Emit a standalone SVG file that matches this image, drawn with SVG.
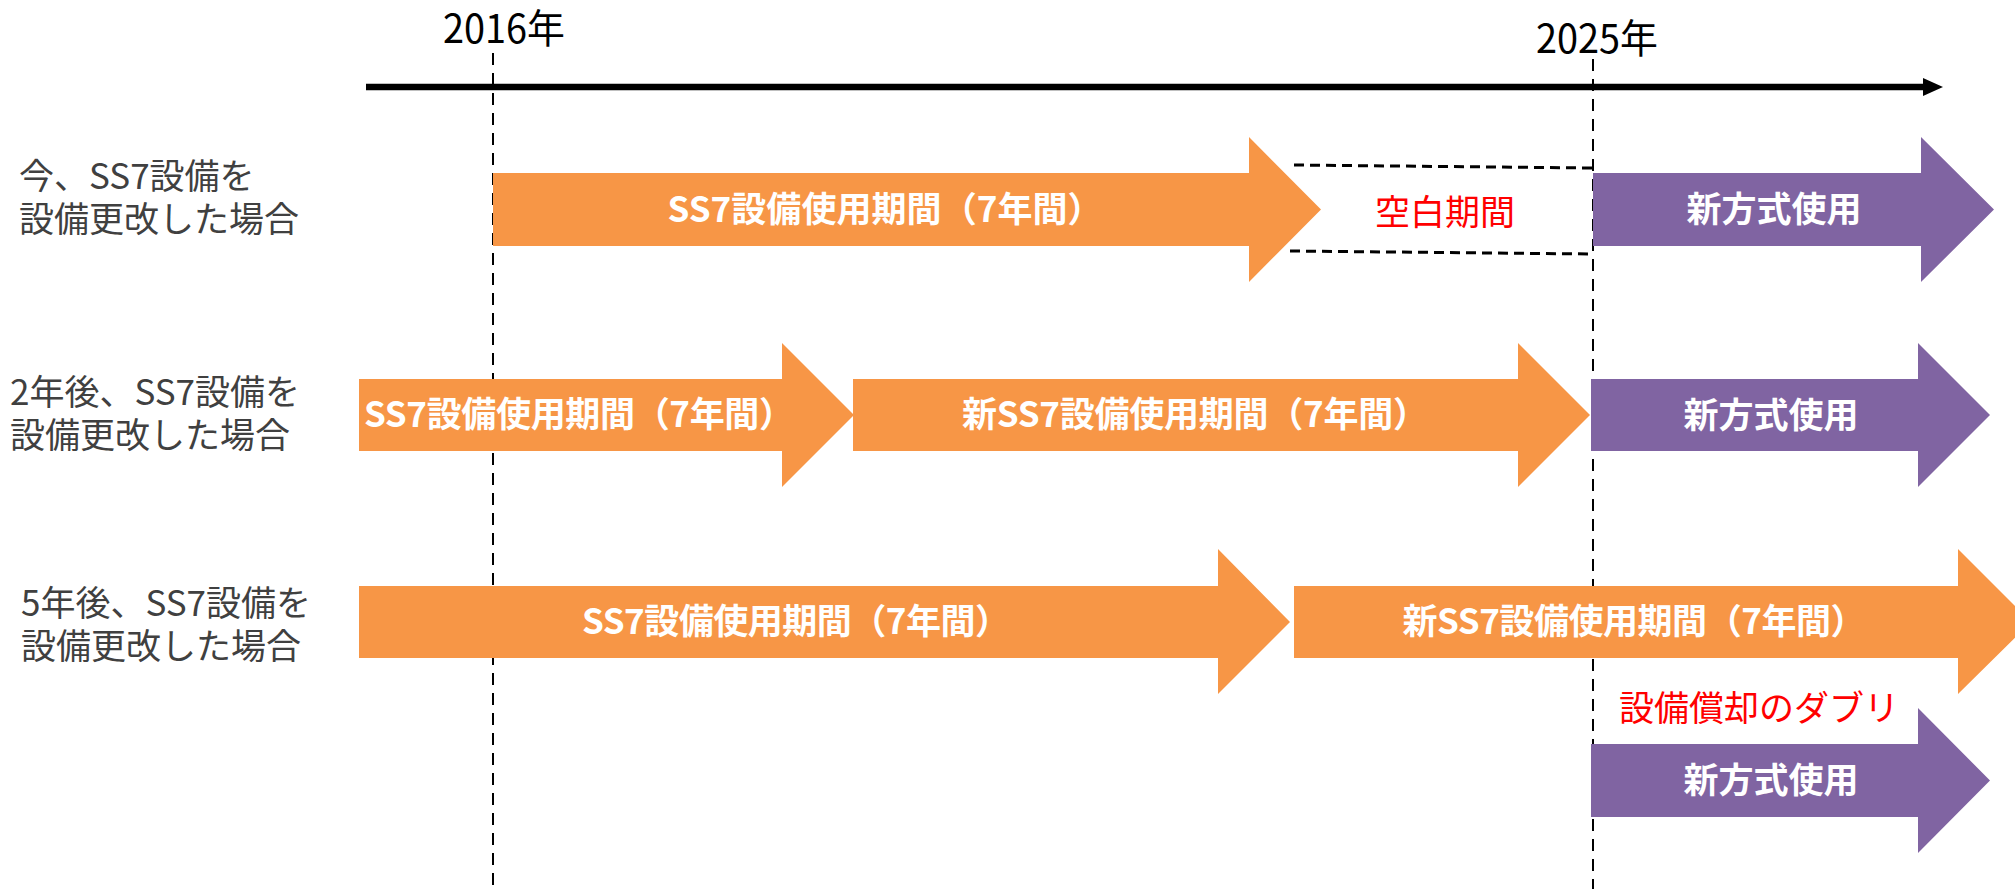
<svg xmlns="http://www.w3.org/2000/svg" width="2015" height="889" viewBox="0 0 2015 889">
<style>
.lbl{font-family:"Noto Sans CJK JP","Noto Sans",sans-serif;font-size:35px;fill:#404040}
.yr{font-family:"Noto Sans CJK JP","Noto Sans",sans-serif;font-size:40px;fill:#000;text-anchor:middle}
.bt{font-family:"Noto Sans CJK JP","Noto Sans",sans-serif;font-size:35px;font-weight:700;fill:#fff;text-anchor:middle}
.pt{font-family:"Noto Sans CJK JP","Noto Sans",sans-serif;font-size:35px;font-weight:700;fill:#fff;text-anchor:middle}
.rt{font-family:"Noto Sans CJK JP","Noto Sans",sans-serif;font-size:35px;fill:#FF0000;text-anchor:middle}
.org{fill:#F79646}
.pur{fill:#8064A2}
.vguide{stroke:#000;stroke-width:2;stroke-dasharray:12 8;fill:none}
.gap{stroke:#000;stroke-width:3;stroke-dasharray:10 6;fill:none}
</style>
<defs>
<marker id="ah" markerUnits="userSpaceOnUse" markerWidth="22" markerHeight="20" refX="2" refY="10" orient="auto">
<polygon points="0,1 20,10 0,19" fill="#000"/>
</marker>
</defs>
<g id="connectors">
<line class="vguide" x1="493" y1="53" x2="493" y2="889"/>
<line class="vguide" x1="1593" y1="59" x2="1593" y2="889"/>
<line x1="366" y1="87" x2="1925" y2="87" stroke="#000" stroke-width="6.5" marker-end="url(#ah)"/>
<line class="gap" x1="1294" y1="165" x2="1593" y2="168"/>
<line class="gap" x1="1290" y1="251" x2="1593" y2="254"/>
</g>
<g id="year2016"><text class="yr" x="504" y="43" textLength="122" lengthAdjust="spacingAndGlyphs">2016年</text></g>
<g id="year2025"><text class="yr" x="1597" y="53" textLength="122" lengthAdjust="spacingAndGlyphs">2025年</text></g>
<g id="label1"><text class="lbl" x="19" y="189">今、SS7設備を<tspan x="19" dy="43">設備更改した場合</tspan></text></g>
<g id="label2"><text class="lbl" x="10" y="405">2年後、SS7設備を<tspan x="10" dy="43">設備更改した場合</tspan></text></g>
<g id="label3"><text class="lbl" x="21" y="616">5年後、SS7設備を<tspan x="21" dy="43">設備更改した場合</tspan></text></g>
<g id="r1-ss7">
<polygon class="org" points="493,173 1249,173 1249,137 1321,209.5 1249,282 1249,246 493,246"/>
<text class="bt" x="885" y="222" textLength="435">SS7設備使用期間（7年間）</text>
</g>
<g id="r1-gap"><text class="rt" x="1445" y="225">空白期間</text></g>
<g id="r1-new">
<polygon class="pur" points="1593,173 1921,173 1921,137 1994,209.5 1921,282 1921,246 1593,246"/>
<text class="pt" x="1774" y="222">新方式使用</text>
</g>
<g id="r2-ss7">
<polygon class="org" points="359,379 782,379 782,343 854,415 782,487 782,451 359,451"/>
<text class="bt" x="579" y="427" textLength="430">SS7設備使用期間（7年間）</text>
</g>
<g id="r2-newss7">
<polygon class="org" points="853,379 1518,379 1518,343 1590,415 1518,487 1518,451 853,451"/>
<text class="bt" x="1195" y="427" textLength="466">新SS7設備使用期間（7年間）</text>
</g>
<g id="r2-new">
<polygon class="pur" points="1591,379 1918,379 1918,343 1990,415 1918,487 1918,451 1591,451"/>
<text class="pt" x="1771" y="428">新方式使用</text>
</g>
<g id="r3-ss7">
<polygon class="org" points="359,586 1218,586 1218,549 1290,622 1218,694 1218,658 359,658"/>
<text class="bt" x="796" y="634" textLength="428">SS7設備使用期間（7年間）</text>
</g>
<g id="r3-newss7">
<polygon class="org" points="1294,586 1958,586 1958,549 2031,622 1958,694 1958,658 1294,658"/>
<text class="bt" x="1634" y="634" textLength="463">新SS7設備使用期間（7年間）</text>
</g>
<g id="r3-dup"><text class="rt" x="1759" y="721">設備償却のダブリ</text></g>
<g id="r4-new">
<polygon class="pur" points="1591,744 1918,744 1918,708 1990,780.5 1918,853 1918,817 1591,817"/>
<text class="pt" x="1771" y="793">新方式使用</text>
</g>
</svg>
